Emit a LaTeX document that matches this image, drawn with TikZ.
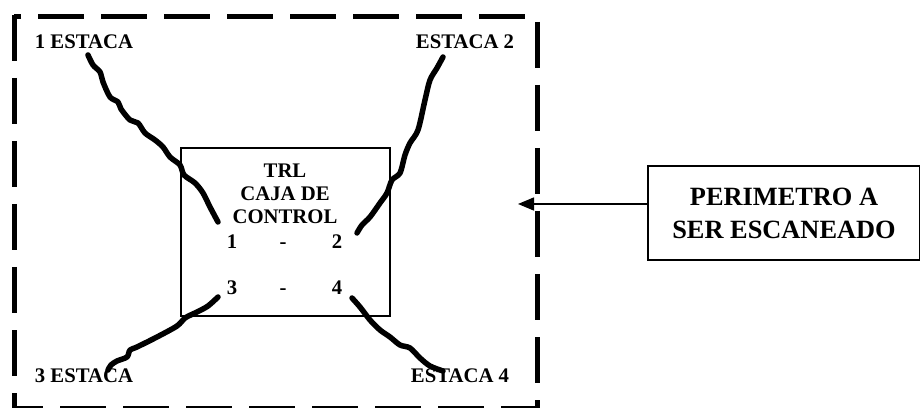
\documentclass[tikz,border=0pt]{standalone}
\usepackage{fontspec}
\setmainfont{Liberation Serif}
\usetikzlibrary{arrows.meta}

\begin{document}
\begin{tikzpicture}[x=0.2mm,y=-0.2mm,
    every node/.style={font=\bfseries\fontsize{11.8}{13}\selectfont,inner sep=0pt},
    borde/.style={line width=1mm,dash pattern=on 9.2mm off 3.4mm},
    cable/.style={line width=1.1mm,line cap=round,line join=round},
    caja/.style={draw,line width=0.3mm}]
  \useasboundingbox (0,0) rectangle (920,408);

  \draw[line width=1mm] (21,17) -- (14,17);
  \draw[borde] (14,15)  -- (14,409)
               (38,17)  -- (537,17)
               (537,22) -- (537,409);
  \draw[borde,dash phase=3.4mm] (14,409) -- (537,409);

  \node[caja,minimum width=41.8mm,minimum height=33.6mm] (control) at (285.5,232) {};
  \node[align=center] (trl) at (285,194) {TRL\\CAJA DE\\CONTROL};
  \node[anchor=base] (n1) at (232,249) {1};
  \node[anchor=base] (g12) at (283,249) {-};
  \node[anchor=base] (n2) at (337,249) {2};
  \node[anchor=base] (n3) at (232,295) {3};
  \node[anchor=base] (g34) at (283,295) {-};
  \node[anchor=base] (n4) at (337,295) {4};

  \node (e1) at (84,41.5) {1 ESTACA};
  \node (e2) at (465,41.5) {ESTACA 2};
  \node (e3) at (84,375.5) {3 ESTACA};
  \node (e4) at (460,375.5) {ESTACA 4};

  \coordinate (s1) at (88,55);   \coordinate (t1) at (218,222);
  \coordinate (s2) at (443,57);  \coordinate (t2) at (357,233);
  \coordinate (s3) at (108,370); \coordinate (t3) at (218,297);
  \coordinate (s4) at (443,371); \coordinate (t4) at (352,298);

  \draw[cable] plot[smooth,tension=.5] coordinates {(s1) (93,65) (100,72) (103,82)
    (110,97) (118,102) (121,109) (130,120) (138,123) (145,133) (155,140) (163,147)
    (170,157) (180,165) (184,175) (195,183) (203,193) (210,207) (t1)};
  \draw[cable] plot[smooth,tension=.5] coordinates {(s2) (437,68) (430,80) (425,100)
    (418,130) (410,143) (405,155) (400,173) (392,180) (387,193) (380,203) (370,217)
    (362,225) (t2)};
  \draw[cable] plot[smooth,tension=.5] coordinates {(t3) (208,306) (197,312) (185,318)
    (177,326) (157,337) (137,347) (130,350) (127,357) (117,361) (111,365) (s3)};
  \draw[cable] plot[smooth,tension=.5] coordinates {(t4) (360,307) (370,320) (380,330)
    (390,337) (400,345) (410,348) (420,358) (430,366) (s4)};

  \node[draw,line width=0.4mm,align=center,minimum width=54.4mm,minimum height=18.8mm,
        font=\bfseries\fontsize{15}{18.8}\selectfont] (perim) at (784,213)
        {PERIMETRO A\\SER ESCANEADO};
  \coordinate (punta) at (518,204);
  \draw[line width=0.3mm,-{Triangle[length=3.2mm,width=2.6mm]}] (perim.west |- punta) -- (punta);
\end{tikzpicture}
\end{document}
